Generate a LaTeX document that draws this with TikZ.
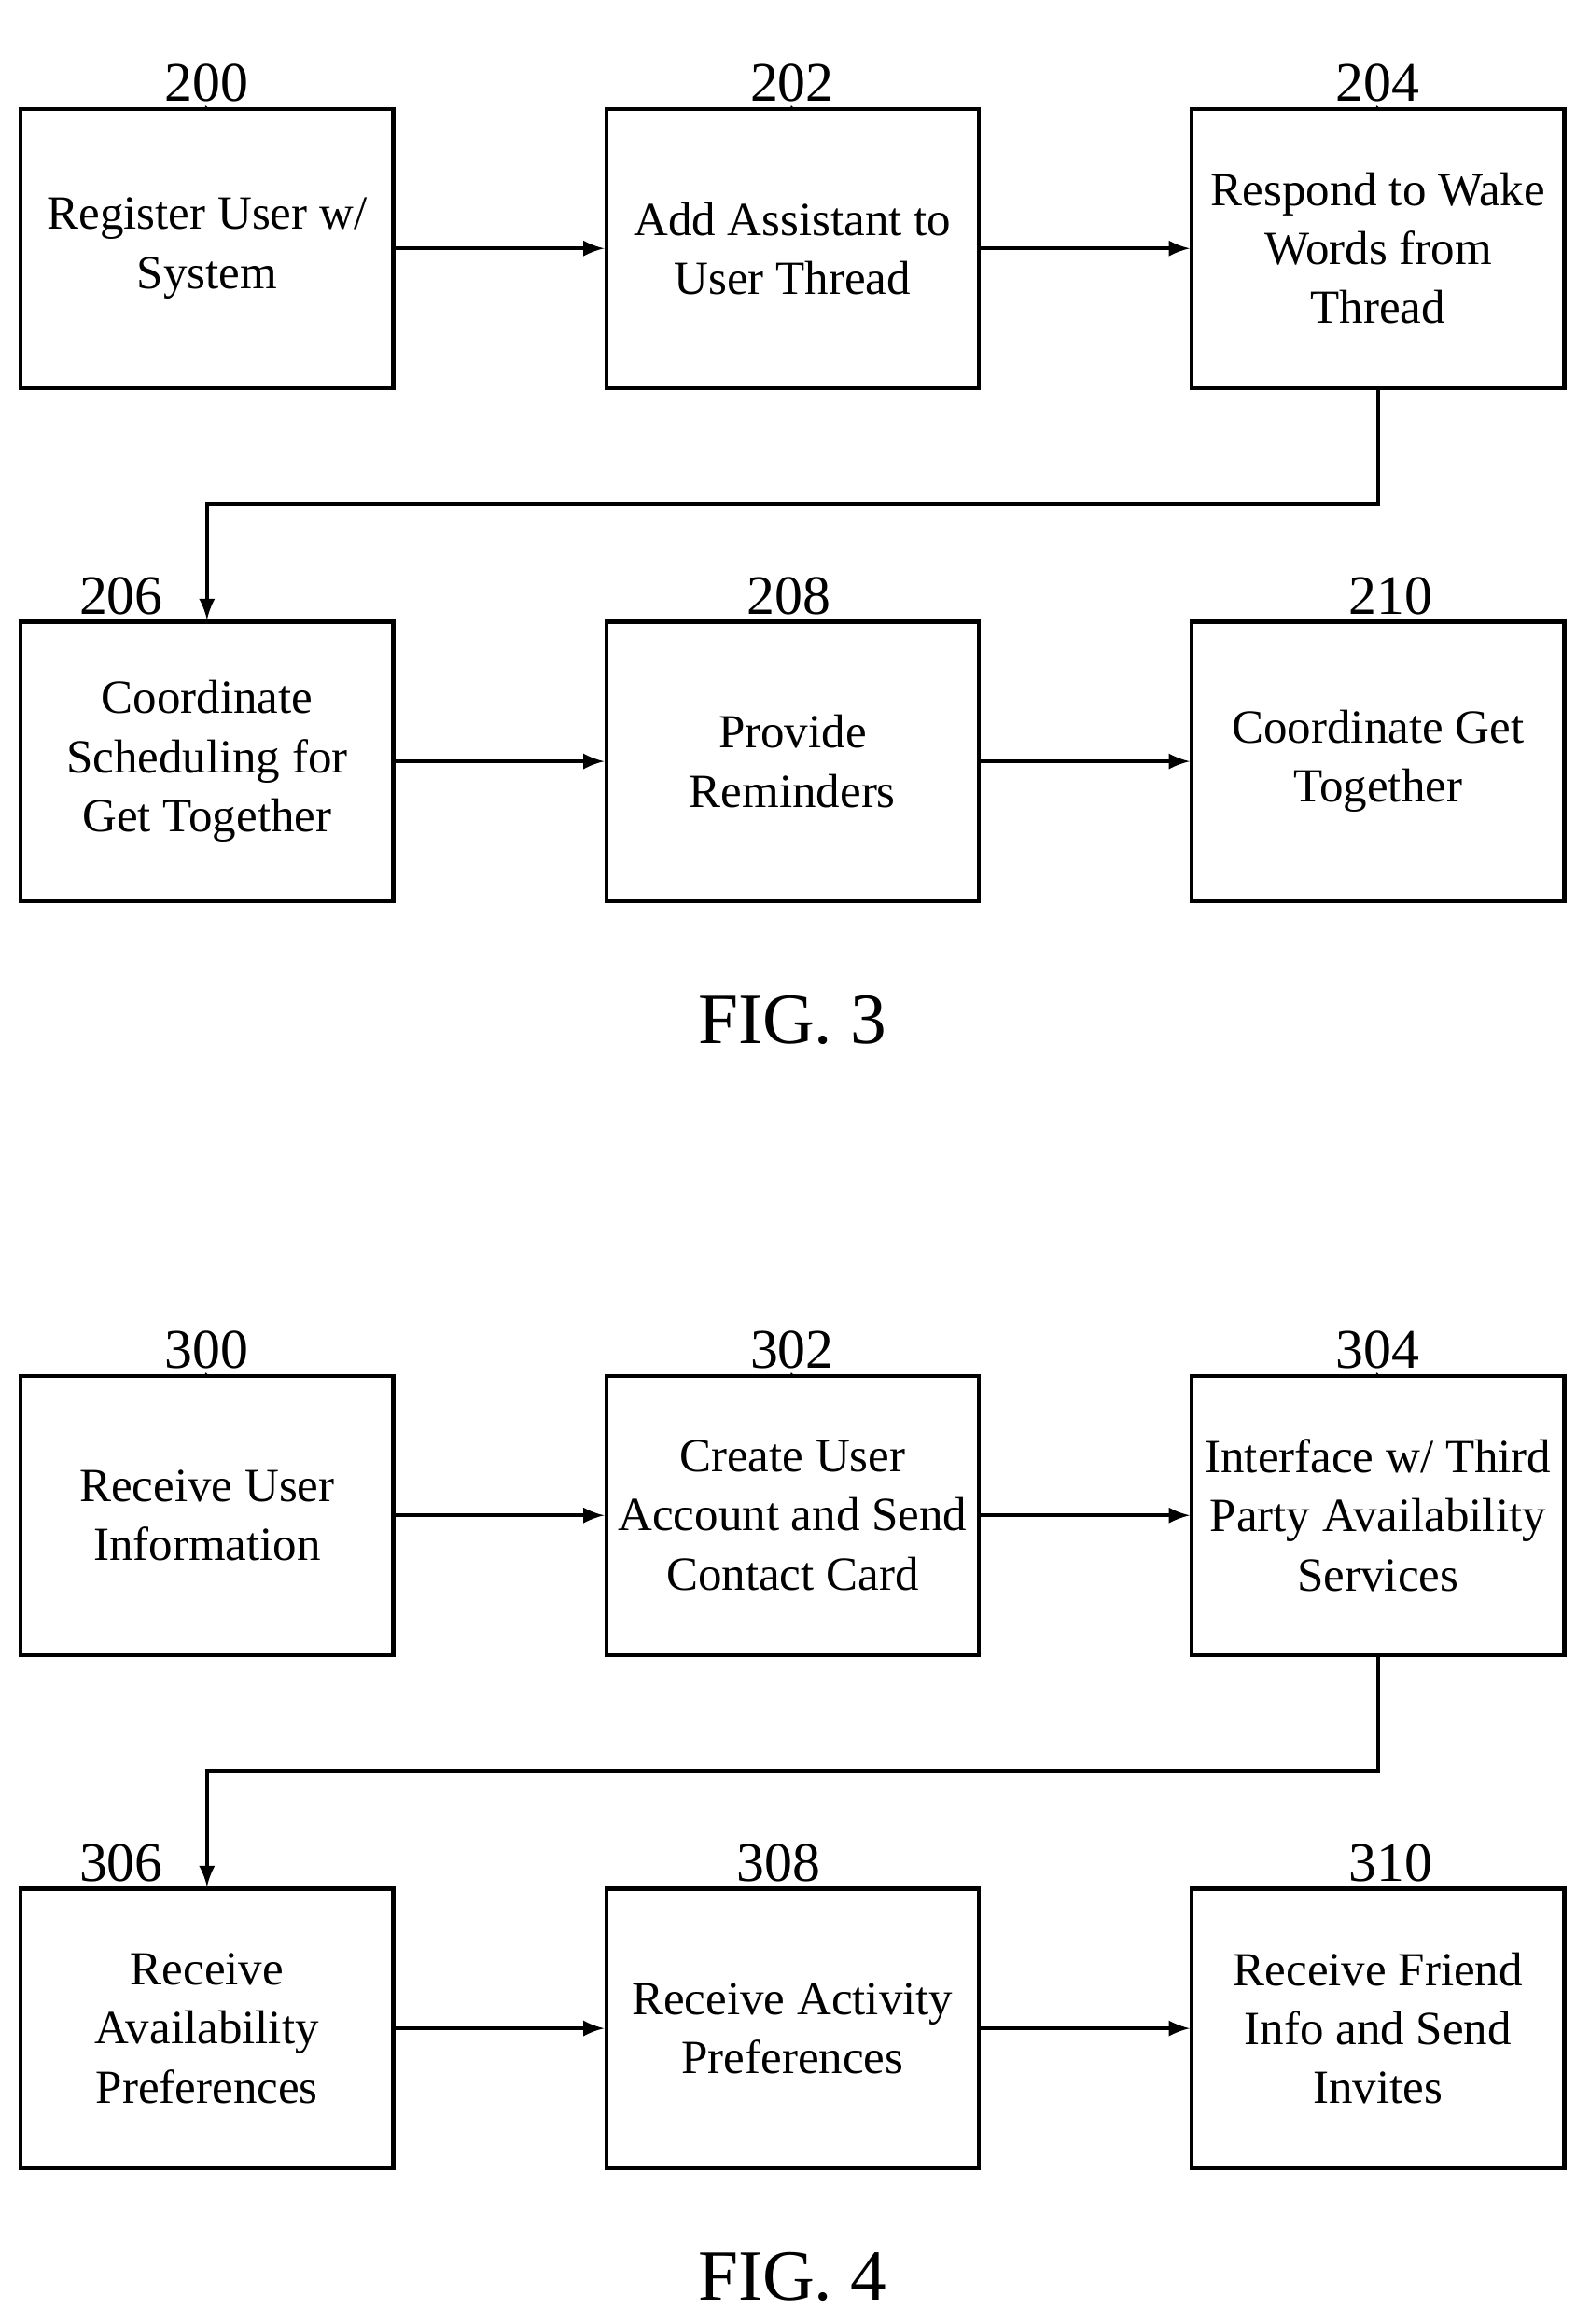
\documentclass[tikz,border=0pt]{standalone}
\usepackage{fontspec}
\setmainfont{Liberation Serif}
\usetikzlibrary{positioning}
\tikzset{
  block/.style={draw, line width=1.2pt, minimum width=3.99cm, minimum height=2.99cm,
    align=center, font=\fontsize{14.5}{18}\selectfont, inner sep=2pt},
  flow/.style={->, >=latex, line width=1.2pt},
  refnum/.style={font=\fontsize{17}{17}\selectfont},
  squig/.style={line width=1pt}
}
\newcommand{\refmark}[3]{% box, label, dx
  \draw[squig] ([xshift=#3]#1.north) .. controls +(-0.05,0.2) and +(0.2,-0.05) .. +(-0.25,0.25)
    .. controls +(-0.3,0.05) and +(0,-0.1) .. +(-0.3,0.4) node[refnum, above=-2pt]{#2};}
\begin{document}
\begin{tikzpicture}[x=0.01584cm, y=-0.01584cm]
\useasboundingbox (0,0) rectangle (1075,1572);
% FIG. 3
\node[block] (200) at (140,168) {Register User w/\\System};
\node[block] (202) at (536,168) {Add Assistant to\\User Thread};
\node[block] (204) at (932,168) {Respond to Wake\\Words from\\Thread};
\node[block] (206) at (140,515) {Coordinate\\Scheduling for\\Get Together};
\node[block] (208) at (536,515) {Provide\\Reminders};
\node[block] (210) at (932,515) {Coordinate Get\\Together};
\node[font=\fontsize{22}{22}\selectfont] (fig3) at (536,690) {FIG. 3};
\draw[flow] (200) -- (202);
\draw[flow] (202) -- (204);
\draw[flow] (204.south) |- (140,341) -- (206.north);
\draw[flow] (206) -- (208);
\draw[flow] (208) -- (210);
\refmark{200}{200}{0pt}
\refmark{202}{202}{0pt}
\refmark{204}{204}{0pt}
\refmark{206}{206}{-26pt}
\refmark{208}{208}{-1pt}
\refmark{210}{210}{4pt}
% FIG. 4
\node[block] (300) at (140,1025) {Receive User\\Information};
\node[block] (302) at (536,1025) {Create User\\Account and Send\\Contact Card};
\node[block] (304) at (932,1025) {Interface w/ Third\\Party Availability\\Services};
\node[block] (306) at (140,1372) {Receive\\Availability\\Preferences};
\node[block] (308) at (536,1372) {Receive Activity\\Preferences};
\node[block] (310) at (932,1372) {Receive Friend\\Info and Send\\Invites};
\node[font=\fontsize{22}{22}\selectfont] (fig4) at (536,1540) {FIG. 4};
\draw[flow] (300) -- (302);
\draw[flow] (302) -- (304);
\draw[flow] (304.south) |- (140,1198) -- (306.north);
\draw[flow] (306) -- (308);
\draw[flow] (308) -- (310);
\refmark{300}{300}{0pt}
\refmark{302}{302}{0pt}
\refmark{304}{304}{0pt}
\refmark{306}{306}{-26pt}
\refmark{308}{308}{-4pt}
\refmark{310}{310}{4pt}
\end{tikzpicture}
\end{document}
